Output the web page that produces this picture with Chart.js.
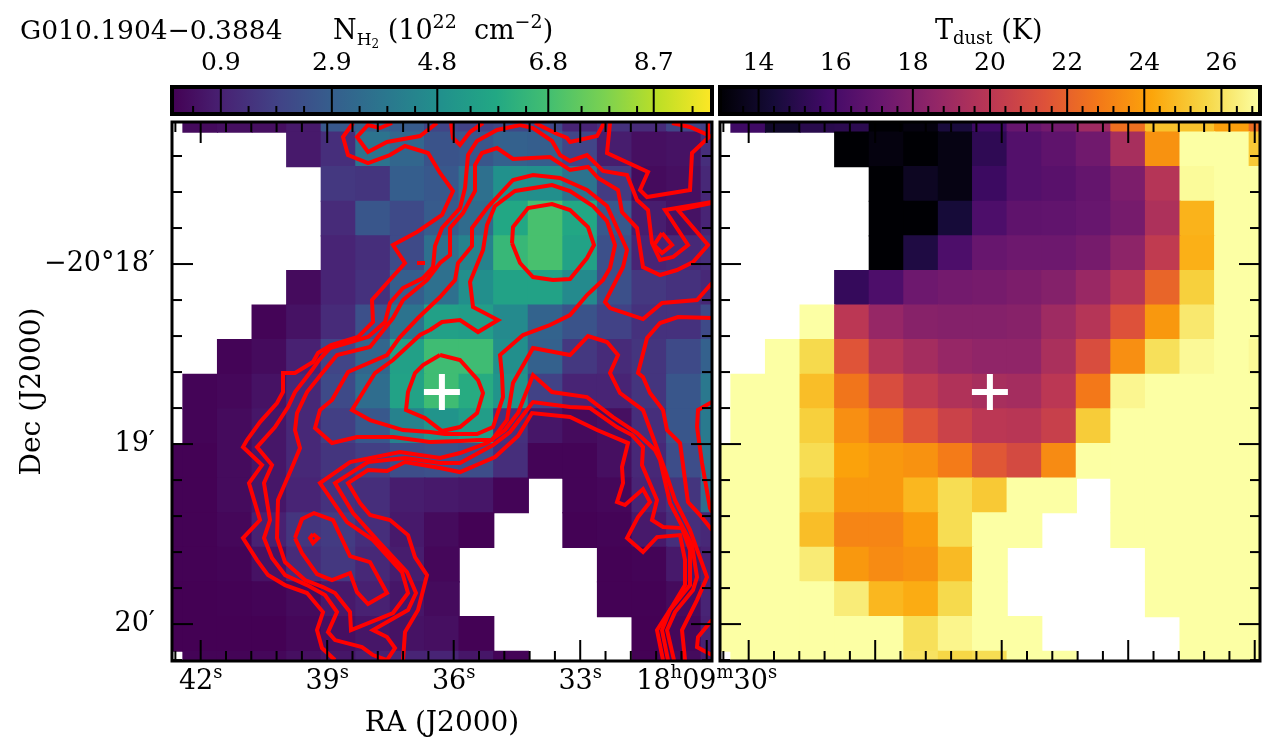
<!DOCTYPE html>
<html>
<head>
<meta charset="utf-8">
<title>G010.1904-0.3884</title>
<script src="https://cdn.jsdelivr.net/npm/chart.js@4"></script>
<style>
  html, body { margin: 0; padding: 0; background: #fff; overflow: hidden; }
  #page { position: relative; width: 1275px; height: 753px; }
  canvas { position: absolute; }
</style>
</head>
<body>
<div id="page">
  <canvas id="cbarT" style="left:716px;top:0;z-index:1"></canvas>
  <canvas id="cbarN" style="left:0;top:0;z-index:2"></canvas>
  <canvas id="mapT" style="left:716px;top:115px;z-index:1"></canvas>
  <canvas id="mapN" style="left:0;top:115px;z-index:2"></canvas>
</div>
<script>
// map cell centres, RA seconds past 18h09m and Dec arcmin past -20 deg
const raCols = [42.83, 42.01, 41.19, 40.37, 39.55, 38.73, 37.91, 37.09, 36.28, 35.46, 34.64, 33.82, 33.00, 32.18, 31.36, 30.54, 29.72];
const decRows = [17.171, 17.363, 17.555, 17.748, 17.940, 18.132, 18.324, 18.516, 18.709, 18.901, 19.093, 19.285, 19.478, 19.670, 19.862, 20.054, 20.247];

// column density, 10^22 cm^-2, one row per Dec
const nH2 = [
  [null, .3, .4, .4, .7, 2.7, 3.0, 2.8, 2.0, 1.9, 2.1, 2.1, 1.0, 1.4, 1.2, 2.0, 1.8],
  [null, null, null, null, .7, 1.3, 3.7, 3.2, 2.5, 2.6, 3.0, 2.9, 2.0, .8, .4, .5, 1.3],
  [null, null, null, null, null, 1.6, 1.5, 2.9, 2.7, 3.6, 4.9, 4.8, 3.7, 1.7, .3, .4, 1.1],
  [null, null, null, null, null, 1.2, 2.6, 2.2, 2.8, 3.4, 5.8, 6.9, 5.8, 2.7, .8, .5, 1.0],
  [null, null, null, null, null, 1.0, 1.3, 2.2, 3.6, 4.3, 6.5, 6.9, 5.6, 2.4, 1.0, 1.1, 1.3],
  [null, null, null, null, .3, 1.0, 1.4, 2.9, 3.6, 4.8, 5.6, 5.6, 4.6, 2.4, 1.6, 1.4, 1.1],
  [null, null, null, .1, .5, 1.2, 2.4, 3.7, 5.5, 5.4, 4.6, 3.1, 2.5, 1.9, 1.4, 1.4, 2.2],
  [null, null, .1, .3, .9, 2.0, 3.2, 5.5, 6.7, 6.7, 4.8, 3.0, 1.6, 1.2, 1.5, 2.2, 3.0],
  [null, .1, .2, .5, 1.1, 2.2, 3.5, 5.6, 6.7, 6.0, 5.0, 1.9, 1.0, 1.0, 1.5, 2.6, 3.9],
  [null, .1, .3, .6, 1.1, 1.8, 2.7, 4.3, 5.0, 5.4, 1.4, .6, .3, .4, 1.3, 2.6, 4.0],
  [.05, .05, .3, .6, 1.1, 1.5, 1.8, 2.3, 2.4, 2.3, 1.3, .1, .1, .4, 1.1, 2.3, 3.7],
  [.05, .05, .3, .6, 1.0, 1.4, 1.3, .8, .7, .6, .1, null, .1, .2, 1.0, 1.5, 3.5],
  [.05, .05, .2, .9, 1.5, 1.7, 1.3, .7, .3, .05, null, null, .05, .1, .7, 1.3, 1.1],
  [.05, .05, .1, .5, 1.2, 1.6, 1.1, .8, .2, null, null, null, null, .05, .1, .7, .9],
  [.03, .03, .05, .1, .3, .7, .9, .6, .3, null, null, null, null, .05, .05, .3, 1.0],
  [.03, .03, .03, .03, .2, .4, .6, .5, .4, .05, null, null, null, null, .03, .2, .9],
  [null, .1, .1, .2, .4, .6, .9, 1.0, 1.0, .6, .1, null, null, null, .05, .3, .8]
];

// dust temperature, K
const tDust = [
  [null, 15.7, 14.0, 15.0, 15.1, 13.0, 13.3, 14.5, 15.7, 17.1, 17.5, 19.0, 22.5, 25.0, 25.0, 24.0, 22.4],
  [null, null, null, null, 13.0, 13.3, 13.0, 13.4, 15.2, 16.4, 16.8, 17.4, 19.3, 23.6, 27, 27, 25.2],
  [null, null, null, null, null, 13.0, 13.8, 13.4, 15.6, 16.4, 16.6, 17.0, 17.8, 19.8, 26.85, 27, 27],
  [null, null, null, null, null, 13.0, 13.0, 14.4, 16.2, 16.8, 16.9, 17.1, 17.6, 19.5, 24.6, 27, 27],
  [null, null, null, null, null, 13.0, 14.7, 16.2, 17.1, 17.3, 17.3, 17.6, 18.4, 20.2, 24.5, 27, 27],
  [null, null, null, null, 15.4, 16.2, 17.3, 17.5, 17.6, 17.8, 18.1, 18.8, 19.8, 22.1, 25.4, 27, 27],
  [null, null, null, 27, 20.0, 18.7, 18.2, 18.1, 18.1, 18.2, 19.0, 19.8, 21.4, 23.8, 26.2, 27, 27],
  [null, null, 27, 25.7, 21.5, 19.8, 19.2, 18.7, 18.5, 18.5, 19.4, 21.2, 23.5, 25.9, 26.8, 27, 26.8],
  [null, 27, 27, 24.9, 22.7, 21.2, 20.2, 19.6, 19.3, 19.2, 20.0, 22.8, 26.7, 27, 27, 27, 27],
  [null, 27, 27, 25.4, 23.5, 22.7, 21.5, 20.6, 20.0, 19.9, 20.5, 25.3, 27, 27, 27, 27, 27],
  [27, 27, 27, 25.8, 24.1, 23.8, 23.6, 22.9, 21.6, 21.0, 23.4, 27, 27, 27, 27, 27, 27],
  [27, 27, 27, 25.4, 23.8, 23.8, 24.7, 25.8, 25.2, 27, 27, null, 27, 27, 27, 27, 27],
  [27, 27, 27, 24.9, 23.2, 23.2, 23.9, 25.8, 27, 27, null, null, 27, 27, 27, 27, 27],
  [27, 27, 27, 26.3, 23.8, 23.4, 23.6, 24.8, 27, null, null, null, null, 27, 27, 27, 27],
  [27, 27, 27, 27, 26.35, 24.7, 24.4, 25.7, 27, null, null, null, null, 27, 27, 27, 27],
  [27, 27, 27, 27, 27, 27, 25.9, 26.65, 27, 27, null, null, null, null, 27, 27, 27],
  [null, 27, 27, 27, 27, 27, 26.0, 25.6, 25.8, 27, 27, null, null, null, 27, 27, 27]
];

// axis ticks
const raMajor = [42, 39, 36, 33, 30];
const raMinor = [42.6, 41.4, 40.8, 40.2, 39.6, 38.4, 37.8, 37.2, 36.6, 35.4, 34.8, 34.2, 33.6, 32.4, 31.8, 31.2, 30.6];
const decMajor = [18, 19, 20];
const decMinor = [17.4, 17.6, 17.8, 18.2, 18.4, 18.6, 18.8, 19.2, 19.4, 19.6, 19.8, 20.2];
const decLabels = ['\u221220\u00b018\u2032', '19\u2032', '20\u2032'];
const nMajor = [0.9, 2.9, 4.8, 6.8, 8.7];
const nMinor = [0.4, 1.4, 1.9, 2.4, 3.4, 3.9, 4.4, 5.4, 5.9, 6.4, 7.4, 7.9, 8.4, 9.4];
const tMajor = [14, 16, 18, 20, 22, 24, 26];
const tMinor = [13.6, 14.4, 14.8, 15.2, 15.6, 16.4, 16.8, 17.2, 17.6, 18.4, 18.8, 19.2, 19.6, 20.4, 20.8, 21.2, 21.6, 22.4, 22.8, 23.2, 23.6, 24.4, 24.8, 25.2, 25.6, 26.4, 26.8];

// source position (RA s, Dec arcmin)
const sourceRa = 36.28;
const sourceDec = 18.711;

// contours, sky offsets from the map's top left corner in units of 1/3 arcsec
const contourA = [[181,1],[171,15],[176,33],[196,41],[218,33],[233,24],[256,31],[268,51],[281,69],[270,93],[245,110],[221,123],[233,141],[215,161],[200,178],[201,200],[186,215],[159,223],[146,231],[141,240],[123,251],[111,251],[111,270],[105,281],[88,300],[75,318],[71,325],[90,343],[77,361],[88,398],[71,416],[85,438],[96,453],[113,463],[135,471],[151,490],[145,508],[150,526],[163,538]];
const contourB = [[540,80],[493,88],[516,123],[501,135],[488,138],[480,121],[476,88],[465,78],[455,53],[431,49],[415,33],[398,39],[388,33],[380,19],[361,6],[348,3],[325,8],[305,19],[296,33],[293,66],[288,86],[270,106],[263,124],[261,145],[251,156],[231,166],[218,181],[213,200],[196,215],[158,226],[147,238],[140,248],[123,270],[116,285],[103,305],[85,325],[100,343],[92,361],[98,398],[92,416],[100,436],[113,453],[135,463],[153,473],[165,490],[156,510],[163,518],[190,525],[201,533],[215,538],[223,526],[215,515],[201,508],[236,488],[244,471],[235,450],[208,421],[181,391],[163,361],[196,340],[233,336],[268,341],[288,341],[321,323],[338,310],[361,280],[398,285],[418,286],[445,305],[460,313],[471,325],[470,343],[485,378],[480,398],[491,405],[510,406],[518,428],[518,463],[498,488],[490,508],[496,538]];
const contourC = [[540,81],[506,88],[536,123],[521,140],[505,148],[488,153],[471,145],[465,106],[450,90],[446,68],[426,56],[416,45],[398,48],[378,35],[341,37],[325,26],[310,31],[303,43],[303,69],[291,91],[278,106],[278,133],[268,141],[255,158],[231,178],[221,196],[198,225],[165,233],[151,250],[135,270],[125,291],[123,308],[128,326],[121,343],[106,378],[105,416],[113,440],[133,458],[151,465],[163,471],[178,490],[179,508],[221,491],[236,471],[230,450],[201,418],[175,400],[148,361],[178,340],[228,330],[268,336],[288,331],[315,321],[333,308],[346,291],[361,253],[380,270],[415,275],[441,295],[465,311],[483,328],[488,338],[498,381],[508,400],[520,423],[525,455],[521,468],[503,490],[495,508],[502,538]];
const contourD = [[540,161],[525,178],[490,181],[471,197],[438,186],[433,180],[451,145],[455,128],[451,119],[435,84],[415,68],[388,56],[361,53],[341,58],[315,86],[300,106],[300,124],[286,141],[283,158],[268,175],[246,196],[228,215],[215,233],[176,250],[160,278],[148,288],[143,306],[160,321],[185,315],[221,315],[258,320],[288,319],[308,318],[320,318],[335,298],[341,261],[361,226],[398,233],[416,214],[435,220],[446,233],[438,251],[448,271],[471,288],[482,318],[493,348],[503,378],[518,408],[535,455],[525,478],[510,508],[513,538]];
const contourE = [[258,208],[270,200],[288,198],[306,210],[326,198],[301,185],[298,160],[311,128],[315,103],[323,84],[343,69],[380,63],[398,69],[421,84],[435,99],[443,123],[438,146],[431,158],[415,173],[398,193],[378,203],[351,213],[328,233],[330,253],[331,275],[321,305],[305,312],[273,312],[258,310],[231,308],[198,298],[180,288],[203,251],[221,238],[248,213],[258,208]];
const contourF = [[231,538],[233,510],[246,488],[255,453],[243,435],[236,413],[218,398],[198,393],[188,381],[176,361],[196,348],[215,349],[233,340],[268,346],[288,350],[323,335],[346,314],[360,291],[398,295],[425,308],[456,321],[450,345],[451,361],[445,380],[453,383],[471,367],[478,380],[466,395],[455,416],[471,430],[485,415],[508,413],[513,438],[513,463],[501,483],[485,508],[491,538]];
const contourG = [[540,196],[506,195],[488,201],[475,216],[466,251],[471,255],[478,271],[491,288],[495,308],[508,321],[516,380],[528,393],[540,408]];
const contourH = [[540,498],[526,515],[525,525],[536,531],[540,533]];
const contourI = [[540,280],[526,288],[525,305],[530,341],[538,386],[540,390]];
const ringPeak = [[340,121],[341,105],[356,86],[380,82],[398,88],[416,105],[422,123],[415,136],[398,157],[381,158],[361,155],[348,141],[340,121]];
const ringSource = [[268,233],[288,238],[306,258],[311,271],[305,291],[288,305],[270,309],[253,296],[234,288],[236,270],[243,251],[251,243],[268,233]];
const ringSouth = [[123,416],[130,397],[142,391],[161,398],[178,434],[198,440],[215,471],[196,482],[185,470],[178,451],[160,458],[145,452],[130,431],[123,416]];
const dotSouth = [[141,412],[146,416],[141,421],[138,416],[141,412]];
const dashNorth = [[245,141],[253,141]];
const diamondEast = [[490,111],[500,123],[490,131],[482,123],[490,111]];
const topA = [[220,1],[208,6],[196,3],[185,15],[196,30],[215,20],[248,14],[265,1]];
const topB = [[279,1],[281,16],[288,23],[298,10],[311,1]];
const topC = [[363,1],[383,11],[395,16],[398,20],[425,14],[432,1]];
const topD = [[438,1],[435,31],[476,50],[468,68],[475,75],[518,68],[520,31],[536,16],[536,1]];
const topE = [[500,1],[518,5],[536,13],[540,15]];
const contours = [contourA, contourB, contourC, contourD, contourE, contourF, contourG, contourH, contourI, ringPeak, ringSource, ringSouth, dotSouth, dashNorth, diamondEast, topA, topB, topC, topD, topE];

const viridis = ['#440154', '#482475', '#414487', '#355f8d', '#2a788e', '#21918c', '#22a884', '#44bf70', '#7ad151', '#bddf26', '#fde725'];
const inferno = ['#000004', '#160b39', '#420a68', '#6a176e', '#932667', '#bb3754', '#dd513a', '#f37819', '#fca50a', '#f6d746', '#fcffa4'];

const SERIF = '"DejaVu Serif", serif';
const RA_LEFT = 42.68, RA_RIGHT = 29.875, DEC_TOP = 17.211, DEC_BOTTOM = 20.205;
const N_MIN = 0.02, N_MAX = 9.75, T_MIN = 13, T_MAX = 27;

Chart.defaults.font.family = SERIF;
Chart.defaults.color = '#000';
Chart.defaults.animation = false;

function hexRgb(h) {
  return [1, 3, 5].map(i => parseInt(h.slice(i, i + 2), 16));
}

function colourAt(map, t) {
  t = Math.min(1, Math.max(0, t));
  const p = t * (map.length - 1);
  const i = Math.min(map.length - 2, Math.floor(p));
  const a = hexRgb(map[i]), b = hexRgb(map[i + 1]);
  const c = a.map((v, k) => Math.round(v + (b[k] - v) * (p - i)));
  return `rgb(${c[0]},${c[1]},${c[2]})`;
}

// text with sub and superscripts, one run at a time
function drawRuns(ctx, runs, x, y, align) {
  const font = r => `${r.size}px ${SERIF}`;
  let total = 0;
  runs.forEach(r => { ctx.font = font(r); total += ctx.measureText(r.text).width; });
  let cx = align === 'center' ? x - total / 2 : x;
  ctx.textAlign = 'left';
  ctx.textBaseline = 'alphabetic';
  ctx.fillStyle = '#000';
  runs.forEach(r => {
    ctx.font = font(r);
    ctx.fillText(r.text, cx, y + (r.dy || 0));
    cx += ctx.measureText(r.text).width;
  });
}

function tick(ctx, x1, y1, x2, y2, w) {
  ctx.lineWidth = w;
  ctx.beginPath();
  ctx.moveTo(x1, y1);
  ctx.lineTo(x2, y2);
  ctx.stroke();
}

function raRuns(s) {
  const big = t => ({ text: t, size: 27 });
  const sup = t => ({ text: t, size: 18, dy: -11 });
  if (s === 30) return [big('18'), sup('h'), big('09'), sup('m'), big('30'), sup('s')];
  return [big(String(s)), sup('s')];
}

// frame and inward ticks of a map panel
const mapFrame = {
  id: 'mapFrame',
  afterDraw(chart, args, opts) {
    const { ctx, chartArea: a, scales: { x, y } } = chart;
    ctx.save();
    ctx.strokeStyle = '#000';
    const marks = (list, len) => {
      list.forEach(v => {
        const px = x.getPixelForValue(v);
        tick(ctx, px, a.top, px, a.top + len, 2);
        tick(ctx, px, a.bottom, px, a.bottom - len, 2);
      });
    };
    marks(raMajor, 21);
    marks(raMinor, 10);
    const side = (list, len) => {
      list.forEach(v => {
        const py = y.getPixelForValue(v);
        tick(ctx, a.left, py, a.left + len, py, 2);
        tick(ctx, a.right, py, a.right - len, py, 2);
      });
    };
    side(decMajor, 21);
    side(decMinor, 10);
    ctx.lineWidth = 3;
    ctx.strokeRect(a.left, a.top, a.right - a.left, a.bottom - a.top);
    if (opts.labels) {
      raMajor.forEach(s => drawRuns(ctx, raRuns(s), x.getPixelForValue(s), a.bottom + 28, 'center'));
    }
    ctx.restore();
  }
};

// gradient, frame and ticks of a colour bar
const barFrame = {
  id: 'barFrame',
  beforeDatasetsDraw(chart, args, opts) {
    const { ctx, chartArea: a } = chart;
    const g = ctx.createLinearGradient(a.left, 0, a.right, 0);
    opts.map.forEach((c, i) => g.addColorStop(i / (opts.map.length - 1), c));
    ctx.save();
    ctx.fillStyle = g;
    ctx.fillRect(a.left, a.top, a.right - a.left, a.bottom - a.top);
    ctx.restore();
  },
  afterDraw(chart, args, opts) {
    const { ctx, chartArea: a, scales: { x } } = chart;
    ctx.save();
    ctx.strokeStyle = '#000';
    opts.major.forEach(v => {
      const px = x.getPixelForValue(v);
      tick(ctx, px, a.top, px, a.bottom, 2);
    });
    opts.minor.forEach(v => {
      const px = x.getPixelForValue(v);
      tick(ctx, px, a.bottom, px, a.bottom - 8, 2);
    });
    ctx.lineWidth = 4;
    ctx.strokeRect(a.left, a.top, a.right - a.left, a.bottom - a.top);
    (opts.titles || []).forEach(t => drawRuns(ctx, t.runs, t.x, 39, 'left'));
    ctx.restore();
  }
};

// the layout must not grow margins for labels near the ends of an axis
function fixBox(s, w, h) {
  if (w) s.width = w;
  if (h) s.height = h;
  s.paddingLeft = s.paddingRight = s.paddingTop = s.paddingBottom = 0;
}

function cellData(grid) {
  const out = [];
  grid.forEach((row, r) => row.forEach((v, c) => {
    if (v !== null) out.push({ x: raCols[c], y: decRows[r], v: v });
  }));
  return out;
}

function contourSets() {
  return contours.map(line => ({
    data: line.map(p => ({ x: RA_LEFT - p[0] / 42.17, y: DEC_TOP + p[1] / 180 })),
    showLine: true,
    borderColor: '#ff0000',
    borderWidth: 4,
    pointRadius: 0,
    tension: 0,
    clip: 0,
    order: 1
  }));
}

function mapChart(id, w, h, grid, colour, padding, withAxes, extra) {
  const cv = document.getElementById(id);
  cv.width = w;
  cv.height = h;
  cv.style.width = w + 'px';
  cv.style.height = h + 'px';
  const sets = [{
    data: [{ x: sourceRa, y: sourceDec }],
    pointStyle: 'cross',
    pointRadius: 18,
    pointBorderWidth: 6,
    pointBorderColor: '#fff',
    clip: 0,
    order: 0
  }].concat(extra, [{
    data: cellData(grid),
    pointStyle: 'rect',
    pointRadius: 25.3,
    pointBorderWidth: 0,
    pointBackgroundColor: c => colour(c.raw.v),
    clip: 0,
    order: 2
  }]);
  return new Chart(cv, {
    type: 'scatter',
    data: { datasets: sets },
    options: {
      responsive: false,
      devicePixelRatio: 1,
      layout: { padding: padding, autoPadding: false },
      events: [],
      plugins: { legend: { display: false }, tooltip: { enabled: false }, mapFrame: { labels: withAxes } },
      scales: {
        x: {
          type: 'linear', min: RA_RIGHT, max: RA_LEFT, reverse: true,
          display: withAxes,
          grid: { display: false }, border: { display: false },
          ticks: { display: false },
          title: { display: withAxes, text: 'RA (J2000)', font: { size: 28 }, padding: { top: 0, bottom: 12 } },
          afterFit: s => { if (withAxes) fixBox(s, 0, 92); }
        },
        y: {
          type: 'linear', min: DEC_TOP, max: DEC_BOTTOM, reverse: true,
          display: withAxes,
          grid: { display: false }, border: { display: false },
          afterBuildTicks: s => { s.ticks = decMajor.map(v => ({ value: v })); },
          ticks: {
            padding: 9, autoSkip: false, font: { size: 27 },
            callback: v => decLabels[decMajor.indexOf(v)]
          },
          title: { display: withAxes, text: 'Dec (J2000)', font: { size: 28 }, padding: { top: 16, bottom: 0 } },
          afterFit: s => { if (withAxes) fixBox(s, 172, 0); }
        }
      }
    },
    plugins: [mapFrame]
  });
}

function barChart(id, w, padding, min, max, major, minor, map, titles) {
  const cv = document.getElementById(id);
  cv.width = w;
  cv.height = 120;
  cv.style.width = w + 'px';
  cv.style.height = '120px';
  return new Chart(cv, {
    type: 'scatter',
    data: { datasets: [] },
    options: {
      responsive: false,
      devicePixelRatio: 1,
      layout: { padding: padding, autoPadding: false },
      events: [],
      plugins: { legend: { display: false }, tooltip: { enabled: false }, barFrame: { map, major, minor, titles } },
      scales: {
        x: {
          type: 'linear', position: 'top', min: min, max: max,
          grid: { display: false }, border: { display: false },
          afterBuildTicks: s => { s.ticks = major.map(v => ({ value: v })); },
          ticks: {
            padding: 1, autoSkip: false, maxRotation: 0, font: { size: 25 },
            callback: v => major.includes(v) ? (major === nMajor ? v.toFixed(1) : String(v)) : ''
          },
          afterFit: s => fixBox(s, 0, 87)
        },
        y: { display: false, min: 0, max: 1 }
      }
    },
    plugins: [barFrame]
  });
}

const nTitle = [
  { text: 'N', size: 27 }, { text: 'H', size: 17, dy: 6 }, { text: '2', size: 12, dy: 9 },
  { text: ' (10', size: 27 }, { text: '22', size: 19, dy: -11 },
  { text: '  cm', size: 27 }, { text: '\u22122', size: 19, dy: -11 }, { text: ')', size: 27 }
];
const tTitle = [
  { text: 'T', size: 27 }, { text: 'dust', size: 18, dy: 5 }, { text: ' (K)', size: 27 }
];
const sourceTitle = [{ text: 'G010.1904\u22120.3884', size: 26.5 }];

barChart('cbarN', 716, { left: 172, right: 4, top: 0, bottom: 6 }, N_MIN, N_MAX, nMajor, nMinor, viridis,
  [{ x: 20, runs: sourceTitle }, { x: 333, runs: nTitle }]);
barChart('cbarT', 559, { left: 4, right: 15, top: 0, bottom: 6 }, T_MIN, T_MAX, tMajor, tMinor, inferno,
  [{ x: 219, runs: tTitle }]);

mapChart('mapN', 800, 638, nH2, v => colourAt(viridis, (v - N_MIN) / (N_MAX - N_MIN)),
  { left: 0, right: 88, top: 7, bottom: 0 }, true, contourSets());
mapChart('mapT', 559, 560, tDust, v => colourAt(inferno, (v - T_MIN) / (T_MAX - T_MIN)),
  { left: 4, right: 15, top: 7, bottom: 14 }, false, []);
</script>
</body>
</html>
